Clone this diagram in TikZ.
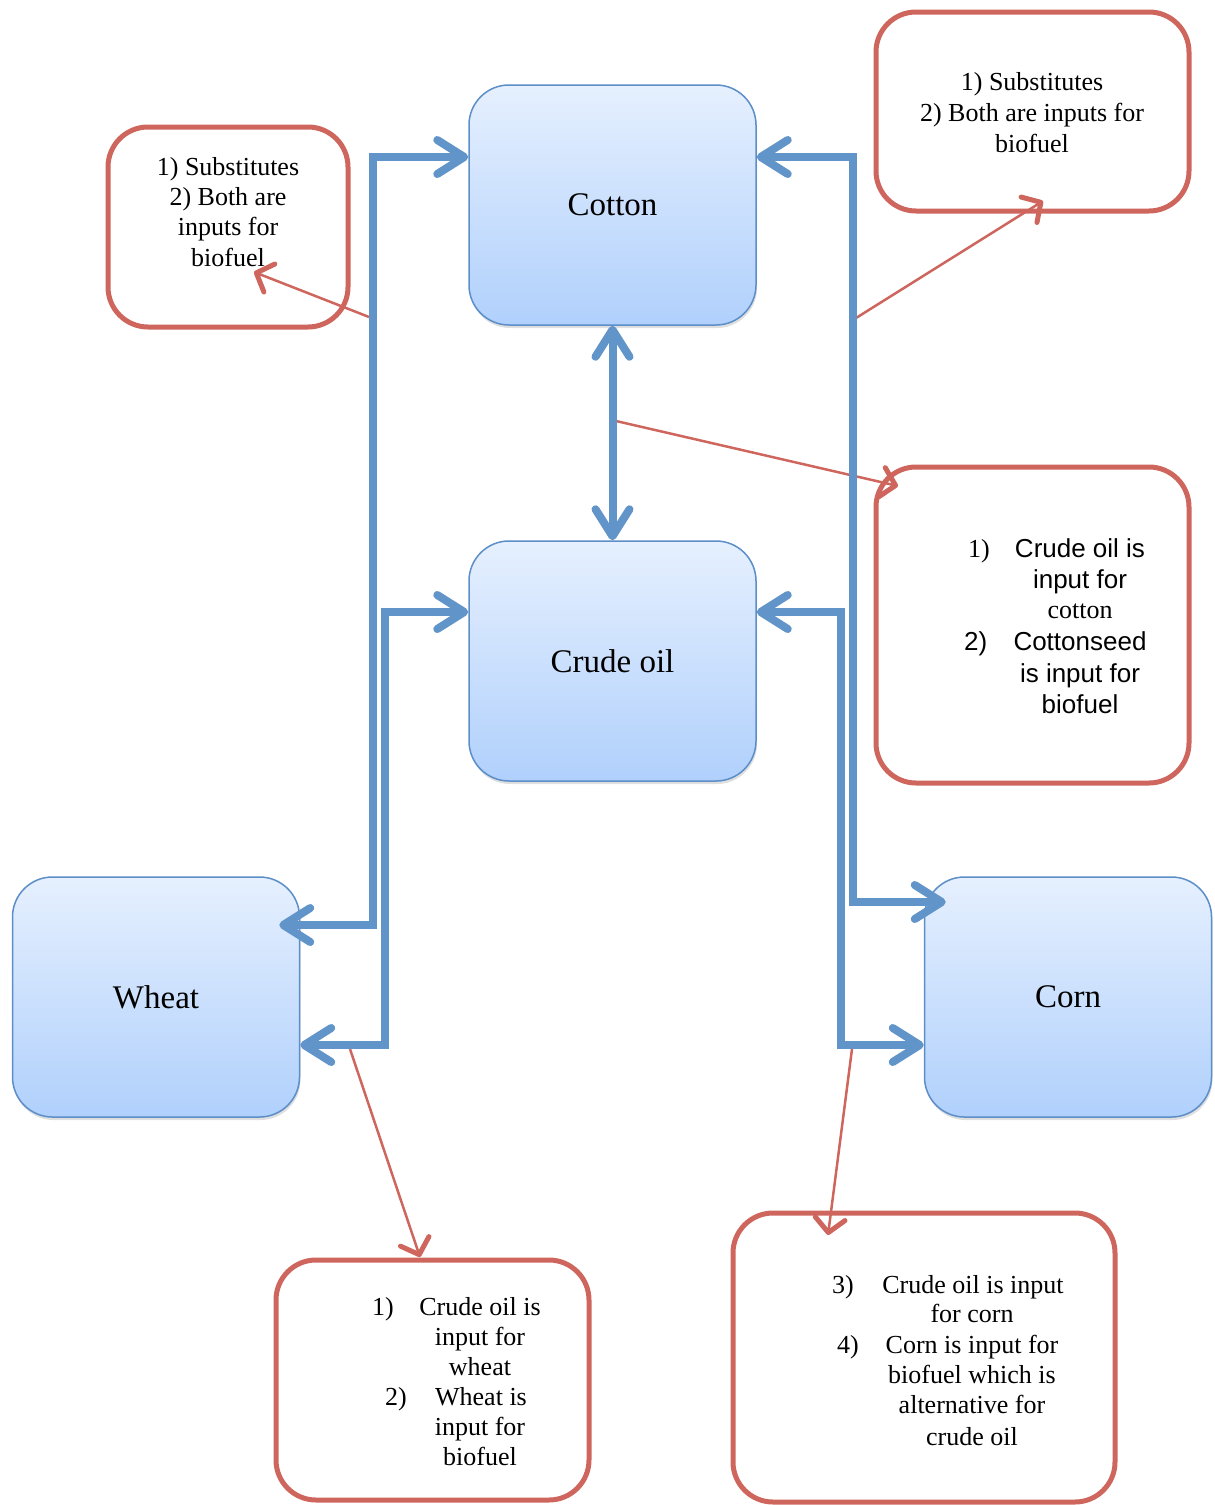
\documentclass[tikz,border=0pt]{standalone}
\usepackage{fontspec}
\setmainfont{Liberation Serif}
\newfontfamily\arialf{Liberation Sans}
\usetikzlibrary{arrows.meta,shadows,calc}

\definecolor{bline}{RGB}{97,148,200}
\definecolor{bborder}{RGB}{92,142,200}
\definecolor{btop}{RGB}{230,240,254}
\definecolor{bbot}{RGB}{176,208,252}
\definecolor{rline}{RGB}{206,102,94}

\tikzset{
  bhead/.tip={Straight Barb[length=27pt,width=34pt,round]},
  rhead/.tip={Straight Barb[length=14pt,width=30pt,line width=5pt,round]},
}

\begin{document}
\begin{tikzpicture}[x=1pt,y=-1pt,
  bluebox/.style={rectangle, rounded corners=40pt, draw=bborder, line width=1.5pt,
    top color=btop, bottom color=bbot, minimum width=287pt, minimum height=240pt,
    inner sep=0pt, font=\fontsize{33}{38}\selectfont,
    drop shadow={opacity=0.25, shadow xshift=1pt, shadow yshift=-3pt}},
  redbox/.style={rectangle, rounded corners=40pt, draw=rline, line width=5pt,
    fill=white, inner sep=0pt},
  txt/.style={inner sep=0pt, anchor=base, font=\fontsize{26}{30}\selectfont},
  atxt/.style={inner sep=0pt, anchor=base, font=\arialf\fontsize{26}{30}\selectfont},
  numl/.style={inner sep=0pt, anchor=base west, font=\fontsize{26}{30}\selectfont},
  anum/.style={inner sep=0pt, anchor=base west, font=\arialf\fontsize{26}{30}\selectfont},
  bconn/.style={draw=bline, line width=8pt, line join=miter, bhead-bhead},
  rconn/.style={draw=rline, line width=2.5pt, -rhead},
]
\useasboundingbox (0,0) rectangle (1215,1505);

% blue boxes
\node[bluebox] (cot) at (612.5,205) {Cotton};
\node[bluebox] (cru) at (612.5,661) {Crude oil};
\node[bluebox] (wh) at (156,997) {Wheat};
\node[bluebox] (cn) at (1068,997) {Corn};

% red boxes
\node[redbox, minimum width=240pt, minimum height=200pt] (rA) at (228,227) {};
\node[redbox, minimum width=313pt, minimum height=199pt] (rB) at (1032.5,111.5) {};
\node[redbox, minimum width=313pt, minimum height=316pt] (rC) at (1032.5,625) {};
\node[redbox, minimum width=313pt, minimum height=240pt] (rD) at (432.5,1380) {};
\node[redbox, minimum width=382pt, minimum height=289pt] (rE) at (924,1357.5) {};

% texts box A
\node[txt] (a1) at (228,175) {1) Substitutes};
\node[txt] (a2) at (228,205) {2) Both are};
\node[txt] (a3) at (228,235) {inputs for};
\node[txt] (a4) at (228,266) {biofuel};
% box B
\node[txt] (b1) at (1032,90) {1) Substitutes};
\node[txt] (b2) at (1032,121) {2) Both are inputs for};
\node[txt] (b3) at (1032,152) {biofuel};
% box C
\node[numl] (c0) at (968,557) {1)};
\node[atxt] (c1) at (1080,557) {Crude oil is};
\node[atxt] (c2) at (1080,588) {input for};
\node[txt] (c3) at (1080,618) {cotton};
\node[anum] (c4) at (964,650) {2)};
\node[atxt] (c5) at (1080,650) {Cottonseed};
\node[atxt] (c6) at (1080,682) {is input for};
\node[atxt] (c7) at (1080,713) {biofuel};
% box D
\node[numl] (d0) at (372,1315) {1)};
\node[txt] (d1) at (480,1315) {Crude oil is};
\node[txt] (d2) at (480,1345) {input for};
\node[txt] (d3) at (480,1375) {wheat};
\node[numl] (d4) at (385,1405) {2)};
\node[txt] (d5) at (481,1405) {Wheat is};
\node[txt] (d6) at (480,1435) {input for};
\node[txt] (d7) at (480,1465) {biofuel};
% box E
\node[numl] (e0) at (832,1293) {3)};
\node[txt] (e1) at (973,1293) {Crude oil is input};
\node[txt] (e2) at (972,1322) {for corn};
\node[numl] (e3) at (837,1353) {4)};
\node[txt] (e4) at (972,1353) {Corn is input for};
\node[txt] (e5) at (972,1383) {biofuel which is};
\node[txt] (e6) at (972,1413) {alternative for};
\node[txt] (e7) at (972,1445) {crude oil};

% red connectors
\coordinate (sA) at (369,317);
\coordinate (tA) at (254,272);
\coordinate (sB) at (856,318);
\coordinate (tB) at (1043,201);
\coordinate (sC) at (616,421);
\coordinate (tC) at (898,486);
\coordinate (sD) at (350,1049);
\coordinate (tD) at (420,1257);
\coordinate (sE) at (852,1049);
\coordinate (tE) at (828,1235);
\draw[rconn] (sA) -- (tA);
\draw[rconn] (sB) -- (tB);
\draw[rconn] (sC) -- (tC);
\draw[rconn] (sD) -- (tD);
\draw[rconn] (sE) -- (tE);

% blue connectors
\coordinate (L1) at (373,157);
\coordinate (L1b) at (373,925);
\coordinate (L2) at (385,612);
\coordinate (L2b) at (385,1045);
\coordinate (R1) at (853,157);
\coordinate (R1b) at (853,902);
\coordinate (R2) at (841,612);
\coordinate (R2b) at (841,1045);
\draw[bconn] (cot.west |- L1) -- (L1) -- (L1b) -- ($(wh.east |- L1b)+(-21,0)$);
\draw[bconn] (cru.west |- L2) -- (L2) -- (L2b) -- (wh.east |- L2b);
\draw[bconn] (cot.east |- R1) -- (R1) -- (R1b) -- ($(cn.west |- R1b)+(22,0)$);
\draw[bconn] (cru.east |- R2) -- (R2) -- (R2b) -- (cn.west |- R2b);
\draw[bconn] (cot.south) -- (cru.north);
\end{tikzpicture}
\end{document}
